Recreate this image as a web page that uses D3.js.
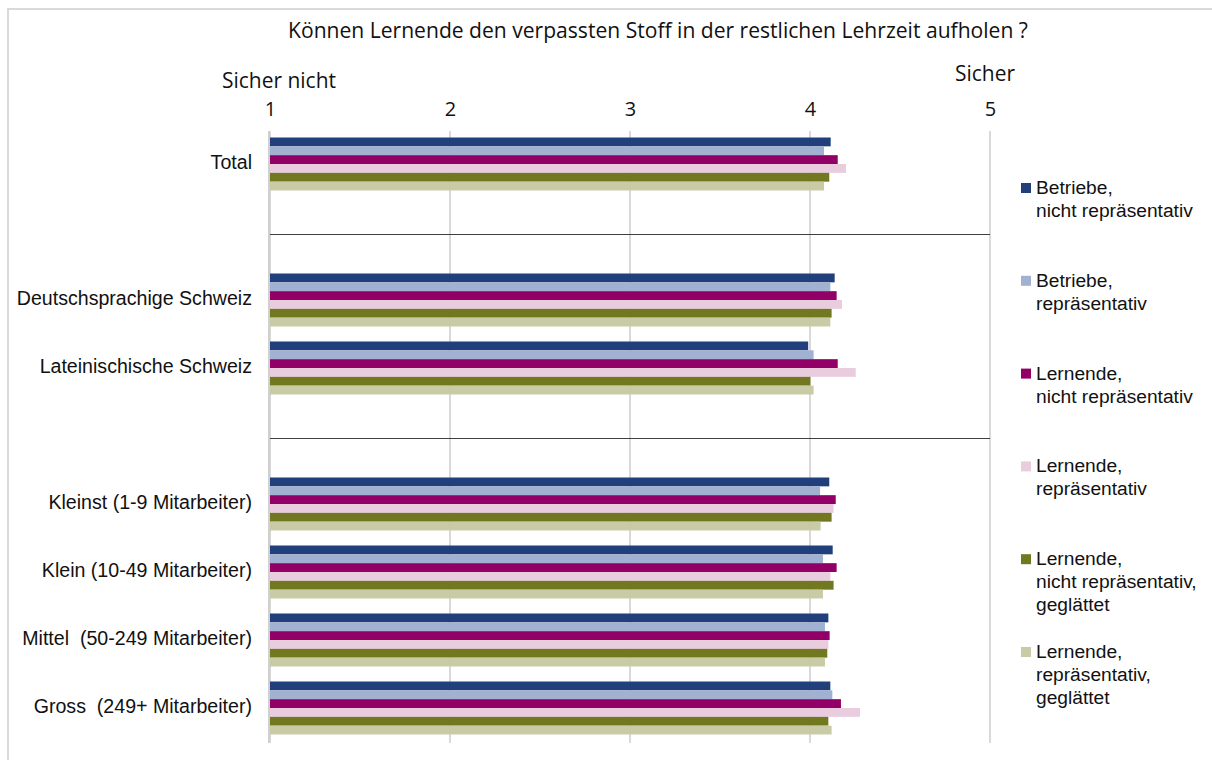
<!DOCTYPE html>
<html>
<head>
<meta charset="utf-8">
<script src="https://cdn.jsdelivr.net/npm/d3@7"></script>
<style>
  html, body { margin: 0; padding: 0; background: #fff; }
  svg { display: block; }
  text { white-space: pre; }
</style>
</head>
<body>
<svg id="chart" width="1212" height="760"></svg>
<script>
// ---------------- data ----------------
const title = "Können Lernende den verpassten Stoff in der restlichen Lehrzeit aufholen ?";
const axisEndLabels = ["Sicher nicht", "Sicher"];
const tickValues = [1, 2, 3, 4, 5];
// null = empty separator slot
const slots = [
  "Total", null,
  "Deutschsprachige Schweiz", "Lateinischische Schweiz", null,
  "Kleinst (1-9 Mitarbeiter)", "Klein (10-49 Mitarbeiter)",
  "Mittel  (50-249 Mitarbeiter)", "Gross  (249+ Mitarbeiter)"
];
const categories = slots.filter(d => d !== null);
const seriesNames = [
  ["Betriebe,", "nicht repräsentativ"],
  ["Betriebe,", "repräsentativ"],
  ["Lernende,", "nicht repräsentativ"],
  ["Lernende,", "repräsentativ"],
  ["Lernende,", "nicht repräsentativ,", "geglättet"],
  ["Lernende,", "repräsentativ,", "geglättet"]
];
const betriebeNicht     = [4.115, 4.137, 3.990, 4.107, 4.126, 4.102, 4.113];
const betriebeRep       = [4.078, 4.113, 4.020, 4.056, 4.072, 4.083, 4.124];
const lernendeNicht     = [4.154, 4.148, 4.154, 4.143, 4.148, 4.109, 4.172];
const lernendeRep       = [4.200, 4.178, 4.254, 4.131, 4.113, 4.102, 4.278];
const lernendeNichtGegl = [4.107, 4.120, 4.002, 4.120, 4.131, 4.096, 4.102];
const lernendeRepGegl   = [4.078, 4.113, 4.020, 4.059, 4.072, 4.083, 4.120];
const seriesValues = [betriebeNicht, betriebeRep, lernendeNicht, lernendeRep, lernendeNichtGegl, lernendeRepGegl];
const colors = ["#213f7b", "#a0b1d2", "#920067", "#eaccdf", "#71781f", "#c9cba6"];

// ---------------- layout ----------------
const svg = d3.select("#chart");
const plotLeft = 270, plotRight = 990, plotTop = 131, plotBottom = 743;
const labelFont = "'Liberation Sans', Arial, sans-serif";
const headFont = "'Open Sans', 'Noto Sans', sans-serif";

function fitText(sel, targetW) {
  const fs = +sel.attr("font-size");
  const w = sel.node().getComputedTextLength();
  sel.attr("font-size", fs * targetW / w);
}

// outer border
svg.append("rect")
  .attr("x", 8).attr("y", 9).attr("width", 1230).attr("height", 800)
  .attr("fill", "#fff").attr("stroke", "#d9d9d9").attr("stroke-width", 2);

const x = d3.scaleLinear().domain([1, 5]).range([plotLeft, plotRight]);
const y = d3.scaleBand().domain(d3.range(slots.length)).range([plotTop, plotBottom]).padding(0);
const groupH = 53;
const yInner = d3.scaleBand().domain(d3.range(seriesValues.length)).range([0, groupH]).padding(0);

// gridlines
svg.append("g")
  .selectAll("line").data(tickValues).join("line")
  .attr("x1", d => x(d)).attr("x2", d => x(d))
  .attr("y1", plotTop).attr("y2", plotBottom)
  .attr("stroke", "#d9d9d9").attr("stroke-width", 2);

// end labels
const l1 = svg.append("text").attr("x", x(1) + 9).attr("y", 88)
  .attr("text-anchor", "middle").attr("font-family", headFont).attr("font-size", 17).attr("fill", "#111")
  .text(axisEndLabels[0]);
fitText(l1, 114);
const l2 = svg.append("text").attr("x", x(5) - 5).attr("y", 81)
  .attr("text-anchor", "middle").attr("font-family", headFont).attr("font-size", 17).attr("fill", "#111")
  .text(axisEndLabels[1]);
fitText(l2, 60);
const headSize = +l1.attr("font-size");

// top axis
const xAxis = d3.axisTop(x).tickValues(tickValues).tickFormat(d3.format("d")).tickSize(0).tickPadding(0);
const gx = svg.append("g").attr("transform", `translate(0,${116})`).call(xAxis);
gx.select(".domain").remove();
gx.selectAll("text")
  .attr("font-family", headFont).attr("font-size", headSize - 1).attr("fill", "#111");

// title
const t = svg.append("text").attr("x", 658).attr("y", 38)
  .attr("text-anchor", "middle").attr("font-family", headFont).attr("font-size", 17).attr("fill", "#111")
  .text(title);
fitText(t, 740);

// separators
slots.forEach((s, i) => {
  if (s === null) {
    const yy = Math.round(y(i) + y.bandwidth() / 2) + 1.5;
    svg.append("line").attr("x1", plotLeft - 2).attr("x2", plotRight)
      .attr("y1", yy).attr("y2", yy).attr("stroke", "#404040").attr("stroke-width", 1);
  }
});

// bars
const slotIndex = c => slots.indexOf(c);
const bars = svg.append("g");
categories.forEach((c, ci) => {
  const g = bars.append("g")
    .attr("transform", `translate(0,${y(slotIndex(c)) + (y.bandwidth() - groupH) / 2 - 1})`);
  g.selectAll("rect").data(seriesValues.map((arr, si) => ({ si, v: arr[ci] }))).join("rect")
    .attr("x", x(1))
    .attr("y", d => yInner(d.si))
    .attr("width", d => x(d.v) - x(1))
    .attr("height", yInner.bandwidth())
    .attr("fill", d => colors[d.si]);
});

// category axis labels
const yAxis = d3.axisLeft(y).tickSize(0).tickPadding(0).tickFormat(i => slots[i] || "");
const gy = svg.append("g").attr("transform", `translate(${252},-2)`).call(yAxis);
gy.select(".domain").remove();
gy.selectAll("text").attr("font-family", labelFont).attr("font-size", 19.6).attr("fill", "#111")
  .attr("dy", "0.32em");

// left axis line
svg.append("line").attr("x1", plotLeft - 1).attr("x2", plotLeft - 1)
  .attr("y1", plotTop).attr("y2", plotBottom).attr("stroke", "#d0d0d0").attr("stroke-width", 2);

// legend
const legend = svg.append("g");
const legTop = 187, legStep = (651 - 187) / 5;
seriesNames.forEach((lines, i) => {
  const cy = legTop + i * legStep;
  legend.append("rect").attr("x", 1021).attr("y", cy - 4).attr("width", 10).attr("height", 10)
    .attr("fill", colors[i]);
  const tx = legend.append("text").attr("x", 1036).attr("y", cy + 7)
    .attr("font-family", labelFont).attr("font-size", 19.2).attr("fill", "#111");
  lines.forEach((l, li) => {
    tx.append("tspan").attr("x", 1036).attr("dy", li === 0 ? 0 : 23).text(l);
  });
});
</script>
</body>
</html>
